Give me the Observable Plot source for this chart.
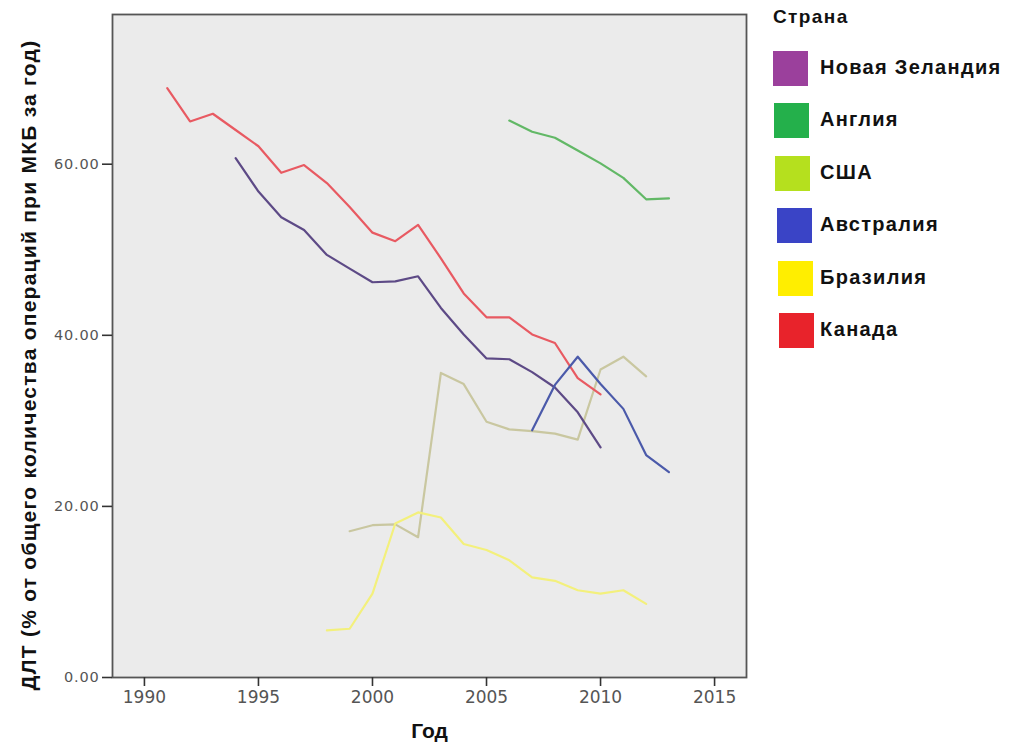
<!DOCTYPE html>
<html>
<head>
<meta charset="utf-8">
<script src="https://cdn.jsdelivr.net/npm/d3@7"></script>
<script src="https://cdn.jsdelivr.net/npm/@observablehq/plot@0.6"></script>
<style>
  html, body { margin: 0; padding: 0; background: #fff; }
  #wrap { position: relative; width: 1013px; height: 746px; }
  #chart { position: absolute; left: 0; top: 0; }
  #legend { position: absolute; left: 773px; top: 4px; font-family: "Liberation Sans", Arial, sans-serif; font-weight: bold; color: #111; }
  #legend .title { font-size: 19px; letter-spacing: 1.4px; height: 26px; line-height: 26px; margin-bottom: 13px; }
  #legend .row { position: relative; height: 52.4px; }
  #legend .sw { position: absolute; top: 8px; width: 35px; height: 35px; }
  #legend .lab { position: absolute; left: 47px; top: 12px; font-size: 20px; letter-spacing: 1.3px; line-height: 24px; white-space: nowrap; }
  g[aria-label="y-axis tick label"] text { font-family: "DejaVu Sans", Verdana, sans-serif; font-size: 14.5px; letter-spacing: 0.8px; fill: #555; }
  g[aria-label="x-axis tick label"] text { font-family: "DejaVu Sans", Verdana, sans-serif; font-size: 17px; fill: #555; }
  .axlab text, .aylab text { font-family: "Liberation Sans", Arial, sans-serif; font-weight: bold; fill: #111; }
  .aylab text { letter-spacing: 1.25px; }
</style>
</head>
<body>
<div id="wrap">
  <div id="chart"></div>
  <div id="legend"></div>
</div>
<script>
const countries = ["Новая Зеландия", "Англия", "США", "Австралия", "Бразилия", "Канада"];
const legendColors = ["#9b409c", "#24b04b", "#b5e01e", "#3a44c6", "#ffee00", "#e8232b"];
const lineColors = ["#5d4a86", "#62b866", "#c9c7a0", "#4b5aaa", "#f3f07c", "#e85a62"];

const nzYears = [1994, 1995, 1996, 1997, 1998, 1999, 2000, 2001, 2002, 2003, 2004, 2005, 2006, 2007, 2008, 2009, 2010];
const nzValues = [60.7, 56.8, 53.8, 52.3, 49.4, 47.8, 46.2, 46.3, 46.9, 43.2, 40.1, 37.3, 37.2, 35.7, 33.9, 31.0, 26.9];

const engYears = [2006, 2007, 2008, 2009, 2010, 2011, 2012, 2013];
const engValues = [65.1, 63.8, 63.1, 61.6, 60.1, 58.4, 55.9, 56.0];

const usaYears = [1999, 2000, 2001, 2002, 2003, 2004, 2005, 2006, 2007, 2008, 2009, 2010, 2011, 2012];
const usaValues = [17.1, 17.8, 17.9, 16.4, 35.6, 34.3, 29.9, 29.0, 28.8, 28.5, 27.8, 36.0, 37.5, 35.2];

const ausYears = [2007, 2008, 2009, 2010, 2011, 2012, 2013];
const ausValues = [28.9, 34.2, 37.5, 34.3, 31.4, 26.0, 24.0];

const braYears = [1998, 1999, 2000, 2001, 2002, 2003, 2004, 2005, 2006, 2007, 2008, 2009, 2010, 2011, 2012];
const braValues = [5.5, 5.7, 9.8, 18.0, 19.3, 18.7, 15.6, 14.9, 13.7, 11.7, 11.3, 10.2, 9.8, 10.2, 8.6];

const canYears = [1991, 1992, 1993, 1994, 1995, 1996, 1997, 1998, 1999, 2000, 2001, 2002, 2003, 2004, 2005, 2006, 2007, 2008, 2009, 2010];
const canValues = [68.9, 65.0, 65.9, 64.0, 62.1, 59.0, 59.9, 57.8, 55.0, 52.0, 51.0, 52.9, 49.0, 44.9, 42.1, 42.1, 40.1, 39.1, 35.0, 33.1];

const xTicks = [1990, 1995, 2000, 2005, 2010, 2015];
const yTicks = [0, 20, 40, 60];
const xLabel = "Год";
const yLabel = "ДЛТ (% от общего количества операций при МКБ за год)";
const legendTitle = "Страна";

const series = [
  [countries[2], usaYears, usaValues],
  [countries[4], braYears, braValues],
  [countries[0], nzYears, nzValues],
  [countries[5], canYears, canValues],
  [countries[3], ausYears, ausValues],
  [countries[1], engYears, engValues]
];
const data = series.flatMap(([c, ys, vs]) => ys.map((y, i) => ({country: c, year: y, value: vs[i]})));

const chart = Plot.plot({
  width: 760,
  height: 746,
  marginLeft: 112,
  marginRight: 14,
  marginTop: 14,
  marginBottom: 69,
  x: {domain: [1988.6, 2016.4]},
  y: {domain: [0, 77.5]},
  color: {domain: countries, range: lineColors},
  marks: [
    Plot.frame({fill: "#ebebeb", stroke: "none"}),
    Plot.line(data, {x: "year", y: "value", z: "country", stroke: "country", strokeWidth: 2.2, curve: "linear"}),
    Plot.frame({stroke: "#555", strokeWidth: 1.8}),
    Plot.axisX({ticks: xTicks, tickFormat: "d", tickSize: 9, tickPadding: 4, stroke: "#333", strokeWidth: 1.6, label: null}),
    Plot.axisY({ticks: yTicks, tickFormat: ".2f", tickSize: 10, tickPadding: 3, stroke: "#333", strokeWidth: 1.6, label: null}),
    Plot.text([xLabel], {text: d => d, frameAnchor: "bottom", dy: 54, textAnchor: "middle", lineAnchor: "middle", fontSize: 21, className: "axlab"}),
    Plot.text([yLabel], {text: d => d, frameAnchor: "left", rotate: -90, dx: -83, dy: 19, textAnchor: "middle", lineAnchor: "middle", fontSize: 21, className: "aylab"})
  ]
});
document.getElementById("chart").appendChild(chart);

const legend = document.getElementById("legend");
const t = document.createElement("div");
t.className = "title";
t.textContent = legendTitle;
legend.appendChild(t);
countries.forEach((c, i) => {
  const row = document.createElement("div");
  row.className = "row";
  const sw = document.createElement("div");
  sw.className = "sw";
  sw.style.left = (i * 1.2) + "px";
  sw.style.background = legendColors[i];
  const lab = document.createElement("div");
  lab.className = "lab";
  lab.textContent = c;
  row.appendChild(sw);
  row.appendChild(lab);
  legend.appendChild(row);
});
</script>
</body>
</html>
